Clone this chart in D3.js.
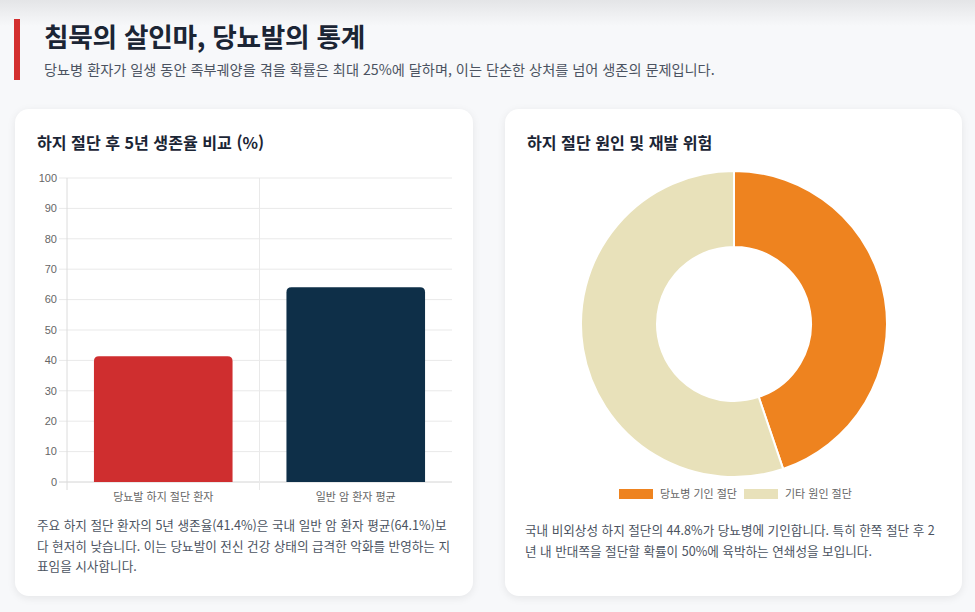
<!DOCTYPE html>
<html lang="ko">
<head>
<meta charset="utf-8">
<script src="https://cdn.jsdelivr.net/npm/d3@7"></script>
<style>
  html, body { margin: 0; padding: 0; }
  body {
    width: 975px; height: 612px; overflow: hidden; position: relative;
    background: #f7f8fa;
    font-family: "Noto Sans CJK KR", "Noto Sans", sans-serif;
  }
  .topshade {
    position: absolute; left: 0; top: 0; width: 975px; height: 26px;
    background: linear-gradient(#e4e5e7, rgba(247,248,250,0));
  }
  .accent { position: absolute; left: 14px; top: 19px; width: 6px; height: 61px; background: #d32f2f; }
  h1 {
    position: absolute; left: 44px; top: 16px; margin: 0;
    font-size: 26.7px; font-weight: 700; color: #1b2535; letter-spacing: -0.3px;
  }
  .sub {
    position: absolute; left: 44px; top: 59px; margin: 0;
    font-size: 14.2px; color: #4b5361;
  }
  .card {
    position: absolute; top: 109px; height: 487px; background: #fff;
    border-radius: 14px; box-shadow: 0 2px 8px rgba(0,0,0,0.08);
  }
  .card h2 {
    position: absolute; left: 22px; top: 21px; margin: 0;
    font-size: 16.1px; font-weight: 700; color: #1b2535;
  }
  .card p {
    position: absolute; margin: 0; font-size: 12.6px; line-height: 20.5px; color: #4b5361;
  }
  .card svg { position: absolute; left: 0; top: 0; }
</style>
</head>
<body>
<div class="topshade"></div>
<div class="accent"></div>
<h1>침묵의 살인마, 당뇨발의 통계</h1>
<div class="sub">당뇨병 환자가 일생 동안 족부궤양을 겪을 확률은 최대 25%에 달하며, 이는 단순한 상처를 넘어 생존의 문제입니다.</div>

<div class="card" id="card1" style="left:15px;width:458px;">
  <h2>하지 절단 후 5년 생존율 비교 (%)</h2>
  <p style="left:22px;top:406px;width:415px;">주요 하지 절단 환자의 5년 생존율(41.4%)은 국내 일반 암 환자 평균(64.1%)보<br>다 현저히 낮습니다. 이는 당뇨발이 전신 건강 상태의 급격한 악화를 반영하는 지<br>표임을 시사합니다.</p>
</div>

<div class="card" id="card2" style="left:505px;width:457px;">
  <h2>하지 절단 원인 및 재발 위험</h2>
  <p style="left:20px;top:411px;width:420px;">국내 비외상성 하지 절단의 44.8%가 당뇨병에 기인합니다. 특히 한쪽 절단 후 2<br>년 내 반대쪽을 절단할 확률이 50%에 육박하는 연쇄성을 보입니다.</p>
</div>

<script>
// bar chart data
var barLabels = ["당뇨발 하지 절단 환자", "일반 암 환자 평균"];
var barValues = [41.4, 64.1];
var barColors = ["#cf2e2f", "#0e2f48"];
var yTicks = [0, 10, 20, 30, 40, 50, 60, 70, 80, 90, 100];

// donut data
var pieLabels = ["당뇨병 기인 절단", "기타 원인 절단"];
var pieValues = [44.8, 55.2];
var pieColors = ["#ee831f", "#e8e1ba"];

var font = "'Liberation Sans', 'Noto Sans CJK KR', sans-serif";

// ---------- bar chart ----------
var svg1 = d3.select("#card1").append("svg")
  .attr("width", 458).attr("height", 487);

var plot = { left: 52, right: 437, top: 69, bottom: 373 };

var x = d3.scaleBand()
  .domain(barLabels)
  .range([plot.left, plot.right])
  .paddingInner(0.28)
  .paddingOuter(0.14);

var xGrid = d3.scaleBand().domain(barLabels).range([plot.left, plot.right]);

var y = d3.scaleLinear().domain([0, 100]).range([plot.bottom, plot.top]);

var g1 = svg1.append("g");

// horizontal grid
g1.selectAll(".hgrid")
  .data(yTicks)
  .enter().append("line")
  .attr("x1", plot.left - 8).attr("x2", plot.right)
  .attr("y1", d => y(d)).attr("y2", d => y(d))
  .attr("stroke", d => d === 0 ? "#d4d4d4" : "#e9e9e9")
  .attr("stroke-width", 1);

// vertical grid (between categories)
var vLines = [plot.left, xGrid(barLabels[1])];
g1.selectAll(".vgrid")
  .data(vLines)
  .enter().append("line")
  .attr("x1", d => d).attr("x2", d => d)
  .attr("y1", plot.top).attr("y2", plot.bottom + 8)
  .attr("stroke", d => d === plot.left ? "#dcdcdc" : "#e9e9e9");

// y tick labels
g1.selectAll(".ylab")
  .data(yTicks)
  .enter().append("text")
  .attr("x", plot.left - 10)
  .attr("y", d => y(d))
  .attr("dy", "0.35em")
  .attr("text-anchor", "end")
  .attr("font-family", font)
  .attr("font-size", 11)
  .attr("fill", "#666")
  .text(d => d);

// x labels
g1.selectAll(".xlab")
  .data(barLabels)
  .enter().append("text")
  .attr("x", d => xGrid(d) + xGrid.bandwidth() / 2)
  .attr("y", plot.bottom + 15)
  .attr("dy", "0.35em")
  .attr("text-anchor", "middle")
  .attr("font-family", font)
  .attr("font-size", 11)
  .attr("fill", "#666")
  .text(d => d);

// bars with rounded top corners
function topRounded(x0, y0, w, h, r) {
  return "M" + x0 + "," + (y0 + h) +
    "V" + (y0 + r) +
    "Q" + x0 + "," + y0 + " " + (x0 + r) + "," + y0 +
    "H" + (x0 + w - r) +
    "Q" + (x0 + w) + "," + y0 + " " + (x0 + w) + "," + (y0 + r) +
    "V" + (y0 + h) + "Z";
}

g1.selectAll(".bar")
  .data(barValues)
  .enter().append("path")
  .attr("d", (d, i) => topRounded(x(barLabels[i]), y(d), x.bandwidth(), plot.bottom - y(d), 5))
  .attr("fill", (d, i) => barColors[i]);

// ---------- donut chart ----------
var svg2 = d3.select("#card2").append("svg")
  .attr("width", 457).attr("height", 487);

var cx = 229, cy = 215, outerR = 153, innerR = 77;

var pie = d3.pie().sort(null).value(d => d);
var arc = d3.arc().innerRadius(innerR).outerRadius(outerR);

svg2.append("g")
  .attr("transform", `translate(${cx}, ${cy})`)
  .selectAll("path")
  .data(pie(pieValues))
  .enter().append("path")
  .attr("d", arc)
  .attr("fill", (d, i) => pieColors[i])
  .attr("stroke", "#fff")
  .attr("stroke-width", 2);

// legend
var legendX = [114, 239];
var legend = svg2.selectAll(".leg")
  .data(pieLabels)
  .enter().append("g")
  .attr("transform", (d, i) => `translate(${legendX[i]}, 380)`);

legend.append("rect")
  .attr("width", 34).attr("height", 10)
  .attr("fill", (d, i) => pieColors[i]);

legend.append("text")
  .attr("x", 41).attr("y", 5)
  .attr("dy", "0.35em")
  .attr("font-family", font)
  .attr("font-size", 11)
  .attr("fill", "#666")
  .text(d => d);
</script>
</body>
</html>
